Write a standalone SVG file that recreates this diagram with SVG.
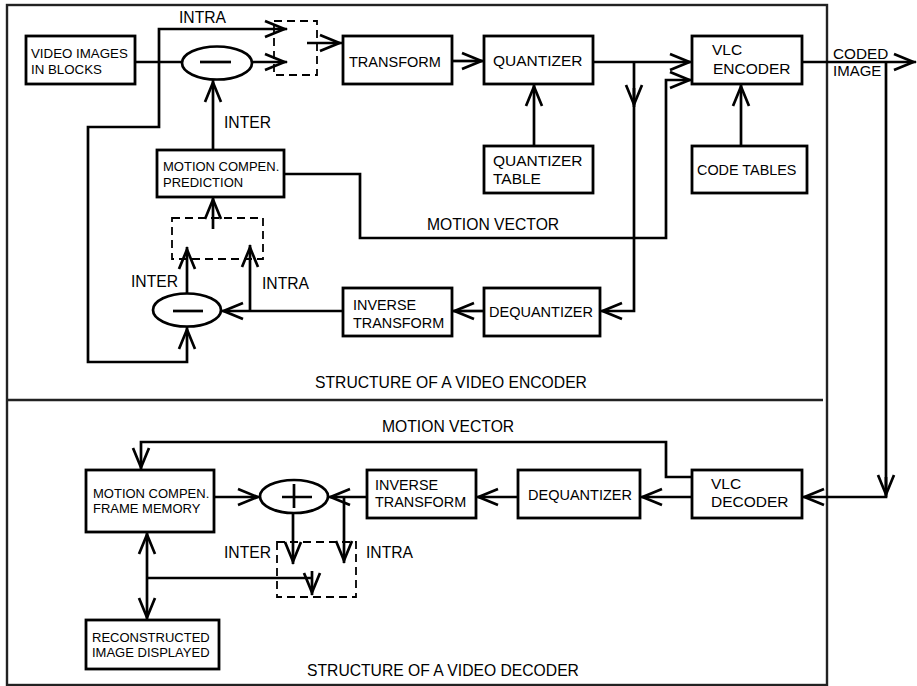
<svg xmlns="http://www.w3.org/2000/svg" width="917" height="686" viewBox="0 0 917 686">
  <style>
    .frame { fill: none; stroke: #222; stroke-width: 2.4; }
    .box { fill: #fff; stroke: #000; stroke-width: 2.8; }
    .op { fill: #fff; stroke: #000; stroke-width: 2.7; }
    .ln { fill: none; stroke: #000; stroke-width: 2.7; stroke-linejoin: miter; }
    .arr { marker-end: url(#ah); }
    .dash { fill: none; stroke: #000; stroke-width: 1.8; stroke-dasharray: 8 5; }
    text { font-family: "Liberation Sans", Arial, Helvetica, sans-serif; fill: #000; }
    .lbl { font-size: 15.7px; }
    .bx { font-size: 14.5px; }
    .sm { font-size: 13px; }
  </style>
  <defs>
    <marker id="ah" markerUnits="userSpaceOnUse" orient="auto" markerWidth="26" markerHeight="20" viewBox="-24 -10 26 20" refX="0" refY="0" overflow="visible">
      <path d="M-22,-8 L-2.5,0 L-22,8" fill="none" stroke="#000" stroke-width="2.7" stroke-linejoin="miter"/>
    </marker>
  </defs>

  <!-- outer frame and the encoder / decoder divider -->
  <rect class="frame" x="7" y="5" width="820" height="680"/>
  <path class="frame" d="M7,400 H823"/>

  <!-- connectors -->
  <g id="connectors">
    <!-- encoder -->
    <path class="ln" d="M135,62 H182"/>
    <path class="ln arr" d="M159,62 V29 H287"/>
    <path class="ln arr" d="M159,62 V127 H88 V362 H187 V327"/>
    <path class="ln arr" d="M252,62 H287"/>
    <path class="ln arr" d="M307,43 H342"/>
    <path class="ln arr" d="M452,61 H484"/>
    <path class="ln arr" d="M534,146 V84"/>
    <path class="ln arr" d="M593,62 H692"/>
    <path class="ln arr" d="M634,62 V311 H600"/>
    <path class="ln arr" d="M634,88 V107"/>
    <path class="ln arr" d="M284,174 H360 V238 H666 V80 H692"/>
    <path class="ln arr" d="M741,146 V84"/>
    <path class="ln arr" d="M802,62 H916"/>
    <path class="ln arr" d="M886,62 V497 H802"/>
    <path class="ln arr" d="M886,477 V497"/>
    <path class="ln arr" d="M213,150 V80"/>
    <path class="ln arr" d="M213,229 V197"/>
    <path class="ln arr" d="M187,293 V247"/>
    <path class="ln arr" d="M250,311 V245"/>
    <path class="ln arr" d="M343,311 H221"/>
    <path class="ln arr" d="M484,311 H452"/>
    <!-- decoder -->
    <path class="ln arr" d="M692,497 H640"/>
    <path class="ln arr" d="M518,497 H476"/>
    <path class="ln arr" d="M367,497 H328"/>
    <path class="ln arr" d="M344,497 V563"/>
    <path class="ln arr" d="M293,513 V564"/>
    <path class="ln arr" d="M214,497 H260"/>
    <path class="ln arr" d="M692,477 H666 V442 H141 V470"/>
    <path class="ln arr" d="M147,578 V532"/>
    <path class="ln arr" d="M147,578 V620"/>
    <path class="ln" d="M147,578 H312"/>
    <path class="ln arr" d="M312,571 V595"/>
  </g>

  <!-- INTRA / INTER switches -->
  <g id="switch-enc-top"><rect class="dash" x="274" y="21" width="43" height="54"/></g>
  <g id="switch-enc-loop"><rect class="dash" x="172" y="218" width="91" height="41"/></g>
  <g id="switch-dec"><rect class="dash" x="277" y="542" width="79" height="55"/></g>

  <!-- encoder nodes -->
  <g id="video-images">
    <rect class="box" x="26" y="36" width="109" height="48"/>
    <text x="31" y="58" style="font-size:13.3px">VIDEO IMAGES</text>
    <text x="31" y="74" style="font-size:13.3px">IN BLOCKS</text>
  </g>
  <g id="subtract-top">
    <ellipse class="op" cx="217" cy="63" rx="35" ry="16.5"/>
    <path class="ln" d="M200,62 H231"/>
  </g>
  <g id="transform">
    <rect class="box" x="343" y="36" width="109" height="48"/>
    <text class="bx" x="349" y="66.5">TRANSFORM</text>
  </g>
  <g id="quantizer">
    <rect class="box" x="484" y="36" width="109" height="48"/>
    <text x="493" y="65.5" style="font-size:15.5px">QUANTIZER</text>
  </g>
  <g id="quantizer-table">
    <rect class="box" x="484" y="146" width="109" height="47"/>
    <text x="493" y="165.7" style="font-size:15.5px">QUANTIZER</text>
    <text x="493" y="184" style="font-size:15.5px">TABLE</text>
  </g>
  <g id="vlc-encoder">
    <rect class="box" x="692" y="36" width="110" height="48"/>
    <text x="712" y="55" style="font-size:15.5px">VLC</text>
    <text x="713" y="74" style="font-size:15.5px">ENCODER</text>
  </g>
  <g id="code-tables">
    <rect class="box" x="692" y="146" width="115" height="47"/>
    <text x="697" y="175" style="font-size:14.4px">CODE TABLES</text>
  </g>
  <g id="motion-prediction">
    <rect class="box" x="157" y="150" width="127" height="47"/>
    <text class="sm" x="163" y="170.5">MOTION COMPEN.</text>
    <text class="sm" x="163" y="187">PREDICTION</text>
  </g>
  <g id="subtract-loop">
    <ellipse class="op" cx="187" cy="310" rx="34" ry="16.5"/>
    <path class="ln" d="M173,311 H203"/>
  </g>
  <g id="inverse-transform-enc">
    <rect class="box" x="343" y="288" width="109" height="48"/>
    <text x="353" y="310" style="font-size:14.4px">INVERSE</text>
    <text x="353" y="328" style="font-size:14.4px">TRANSFORM</text>
  </g>
  <g id="dequantizer-enc">
    <rect class="box" x="484" y="288" width="116" height="48"/>
    <text class="bx" x="489" y="317.3">DEQUANTIZER</text>
  </g>

  <!-- decoder nodes -->
  <g id="frame-memory">
    <rect class="box" x="86" y="470" width="128" height="62"/>
    <text class="sm" x="93" y="498.3">MOTION COMPEN.</text>
    <text class="sm" x="93" y="513.3">FRAME MEMORY</text>
  </g>
  <g id="adder">
    <ellipse class="op" cx="294" cy="496.5" rx="34" ry="16.5"/>
    <path class="ln" d="M282,497 H312 M294,484 V508"/>
  </g>
  <g id="inverse-transform-dec">
    <rect class="box" x="367" y="470" width="109" height="48"/>
    <text x="375" y="490" style="font-size:14.4px">INVERSE</text>
    <text x="375" y="506.7" style="font-size:14.4px">TRANSFORM</text>
  </g>
  <g id="dequantizer-dec">
    <rect class="box" x="518" y="470" width="122" height="48"/>
    <text class="bx" x="528" y="500">DEQUANTIZER</text>
  </g>
  <g id="vlc-decoder">
    <rect class="box" x="692" y="470" width="110" height="48"/>
    <text x="711" y="489" style="font-size:15.5px">VLC</text>
    <text x="711" y="507.3" style="font-size:15.5px">DECODER</text>
  </g>
  <g id="reconstructed">
    <rect class="box" x="86" y="620" width="133" height="49"/>
    <text class="sm" x="92" y="641.7">RECONSTRUCTED</text>
    <text class="sm" x="92" y="657.3">IMAGE DISPLAYED</text>
  </g>

  <!-- labels -->
  <g id="labels">
    <text class="lbl" x="179" y="23.3">INTRA</text>
    <text class="lbl" x="224" y="128">INTER</text>
    <text class="lbl" x="131" y="287.3">INTER</text>
    <text class="lbl" x="262" y="289.3">INTRA</text>
    <text class="lbl" x="427" y="230">MOTION VECTOR</text>
    <text x="833" y="58.5" style="font-size:15.3px">CODED</text>
    <text x="833" y="75.5" style="font-size:15px">IMAGE</text>
    <text class="lbl" x="315" y="387.7">STRUCTURE OF A VIDEO ENCODER</text>
    <text class="lbl" x="382" y="431.7">MOTION VECTOR</text>
    <text class="lbl" x="224" y="558.3">INTER</text>
    <text class="lbl" x="366" y="558.3">INTRA</text>
    <text class="lbl" x="307" y="675.5">STRUCTURE OF A VIDEO DECODER</text>
  </g>
</svg>
